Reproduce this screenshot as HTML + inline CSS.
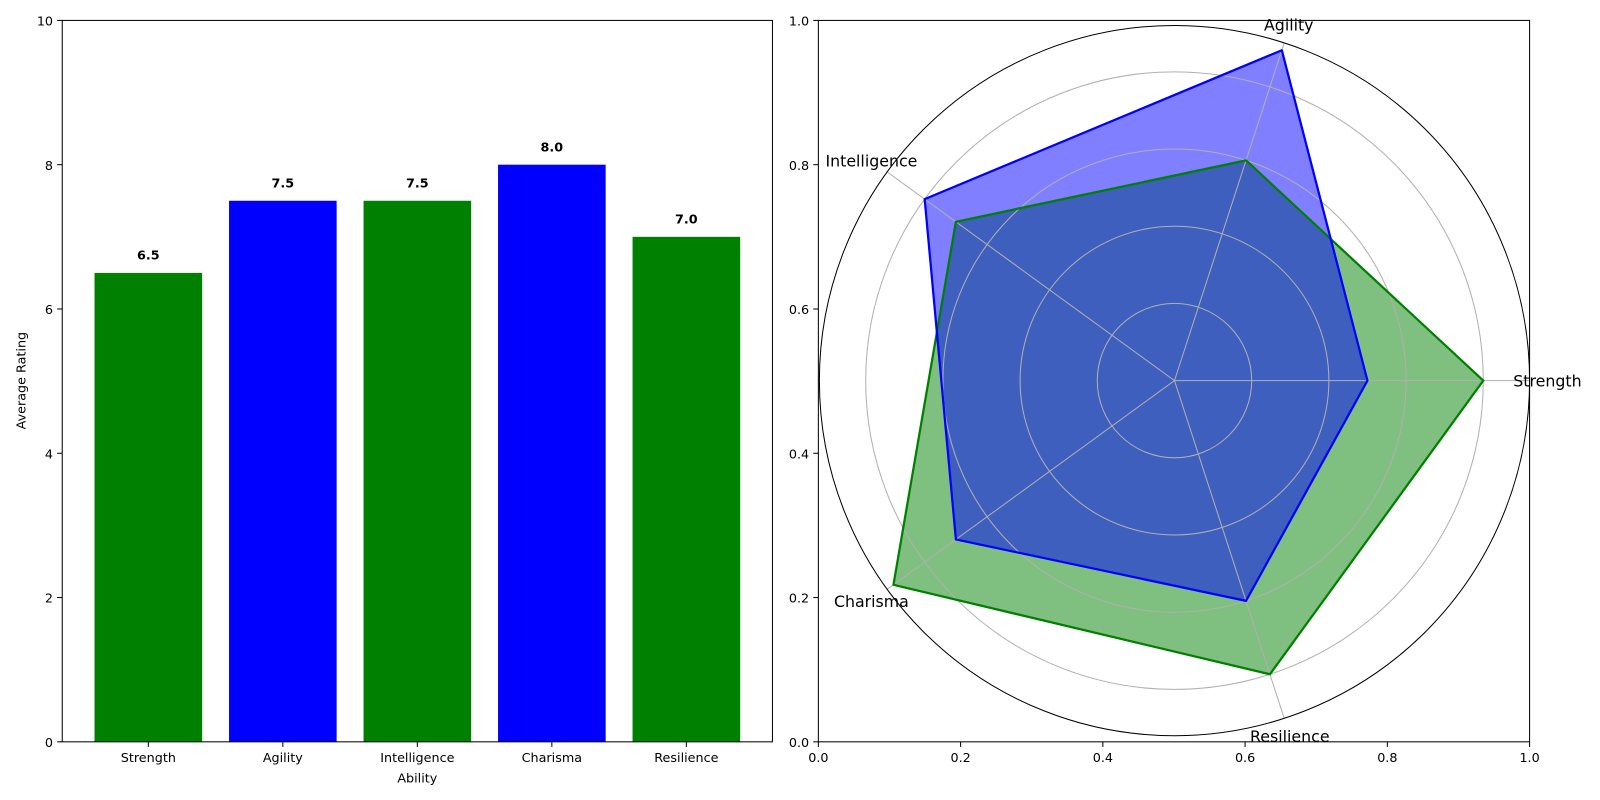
<!DOCTYPE html>
<html><head><meta charset="utf-8"><style>
html,body{margin:0;padding:0;background:#fff;width:1600px;height:800px;overflow:hidden;}
svg{display:block;font-family:"DejaVu Sans","Liberation Sans",sans-serif;}
</style></head><body>
<svg id="c" width="1600" height="800" viewBox="0 0 1600 800"><g id="root" transform="scale(1.0204)"></g></svg>
<script>
const categories=["Strength","Agility","Intelligence","Charisma","Resilience"];
const seriesBlue=[5,9,8,7,6];
const seriesGreen=[8,6,7,9,8];
const barValues=[6.5,7.5,7.5,8.0,7.0];
const barColors=["green","blue","green","blue","green"];
const yTicks=[0,2,4,6,8,10];
const radarTicks=[0,0.2,0.4,0.6,0.8,1.0];
const rGrid=[2,4,6,8];
const rMax=9.2;

const svg=document.getElementById('root');
const NS="http://www.w3.org/2000/svg";
function mk(tag,attrs,parent,text){const e=document.createElementNS(NS,tag);for(const k in attrs)e.setAttribute(k,attrs[k]);if(text!==undefined)e.textContent=text;(parent||svg).appendChild(e);return e;}

const FS=12.5;
// left bar chart
const L={x0:61,x1:757,y0:20,y1:727};
const xs=v=>L.x0+(v+0.64)/5.28*(L.x1-L.x0);
const ys=v=>L.y1-v/10*(L.y1-L.y0);
const gBar=mk('g',{});


barValues.forEach((v,i)=>{
  const w=xs(0.4)-xs(-0.4);
  const r=mk('rect',{x:xs(i)-w/2,y:ys(v),width:w,height:ys(0)-ys(v),fill:barColors[i]},gBar);
  
  
  const t=mk('text',{x:xs(i),y:ys(v)-13,'text-anchor':'middle','font-size':FS,'font-weight':'bold'},gBar,v.toFixed(1));
  
  
  mk('line',{x1:xs(i),x2:xs(i),y1:L.y1,y2:L.y1+5,stroke:'#000'},gBar);
  const xl=mk('text',{x:xs(i),y:L.y1+20,'text-anchor':'middle','font-size':FS},gBar,categories[i]);
  
  
});
yTicks.forEach(v=>{
  mk('line',{x1:L.x0-5,x2:L.x0,y1:ys(v),y2:ys(v),stroke:'#000'},gBar);
  const t=mk('text',{x:L.x0-9,y:ys(v)+5,'text-anchor':'end','font-size':FS},gBar,v);
  
  
});
mk('rect',{x:L.x0,y:L.y0,width:L.x1-L.x0,height:L.y1-L.y0,fill:'none',stroke:'#000','stroke-width':1},gBar);
const xt=mk('text',{x:(L.x0+L.x1)/2,y:767,'text-anchor':'middle','font-size':FS},gBar,'Ability');


const yt=mk('text',{x:25,y:373,'text-anchor':'middle','font-size':FS,transform:'rotate(-90 25 373)'},gBar,'Average Rating');



// right radar
const R={x0:802,x1:1499,y0:20,y1:727};
const cx=1151,cy=373,rad=348;
const gR=mk('g',{});


radarTicks.forEach(v=>{
  const x=R.x0+v*(R.x1-R.x0), y=R.y1-v*(R.y1-R.y0);
  mk('line',{x1:x,x2:x,y1:R.y1,y2:R.y1+5,stroke:'#000'},gR);
  const a=mk('text',{x:x,y:R.y1+20,'text-anchor':'middle','font-size':FS},gR,v.toFixed(1));
  
  
  mk('line',{x1:R.x0-5,x2:R.x0,y1:y,y2:y,stroke:'#000'},gR);
  const b=mk('text',{x:R.x0-9,y:y+5,'text-anchor':'end','font-size':FS},gR,v.toFixed(1));
  
  
});
const N=categories.length;
const ang=i=>i*2*Math.PI/N;
const pt=(i,v)=>[cx+Math.cos(ang(i))*v/rMax*rad, cy-Math.sin(ang(i))*v/rMax*rad];
function poly(vals,col,name){
  const d=vals.map((v,i)=>pt(i,v).join(',')).join(' ');
  const f=mk('polygon',{points:d,fill:col,'fill-opacity':0.5,stroke:'none'},gR);
  
  
  return d;
}
const dG=poly(seriesGreen,'green','radar-series-green');
const dB=poly(seriesBlue,'blue','radar-series-blue');
rGrid.forEach(g=>{
  const c=mk('circle',{cx:cx,cy:cy,r:g/rMax*rad,fill:'none',stroke:'#b0b0b0','stroke-width':1},gR);
  
  
});
categories.forEach((c,i)=>{
  const p=pt(i,rMax);
  mk('line',{x1:cx,y1:cy,x2:p[0],y2:p[1],stroke:'#b0b0b0','stroke-width':1},gR);
});
const lg=mk('polygon',{points:dG,fill:'none',stroke:'green','stroke-width':2.2,'stroke-linejoin':'round'},gR);


const lb=mk('polygon',{points:dB,fill:'none',stroke:'blue','stroke-width':2.2,'stroke-linejoin':'round'},gR);


mk('circle',{cx:cx,cy:cy,r:rad,fill:'none',stroke:'#000','stroke-width':1},gR);
mk('rect',{x:R.x0,y:R.y0,width:R.x1-R.x0,height:R.y1-R.y0,fill:'none',stroke:'#000','stroke-width':1},gR);
categories.forEach((c,i)=>{
  let anchor='middle',x=0,y=0;
  if(i===0){x=cx+rad-16;y=379;anchor='start';}
  if(i===1){x=1263;y=30;}
  if(i===2){x=854;y=163;}
  if(i===3){x=854;y=595;}
  if(i===4){x=1264;y=727;}
  const t=mk('text',{x:x,y:y,'text-anchor':anchor,'font-size':15.5},gR,c);
  
  
});
</script>
</body></html>
